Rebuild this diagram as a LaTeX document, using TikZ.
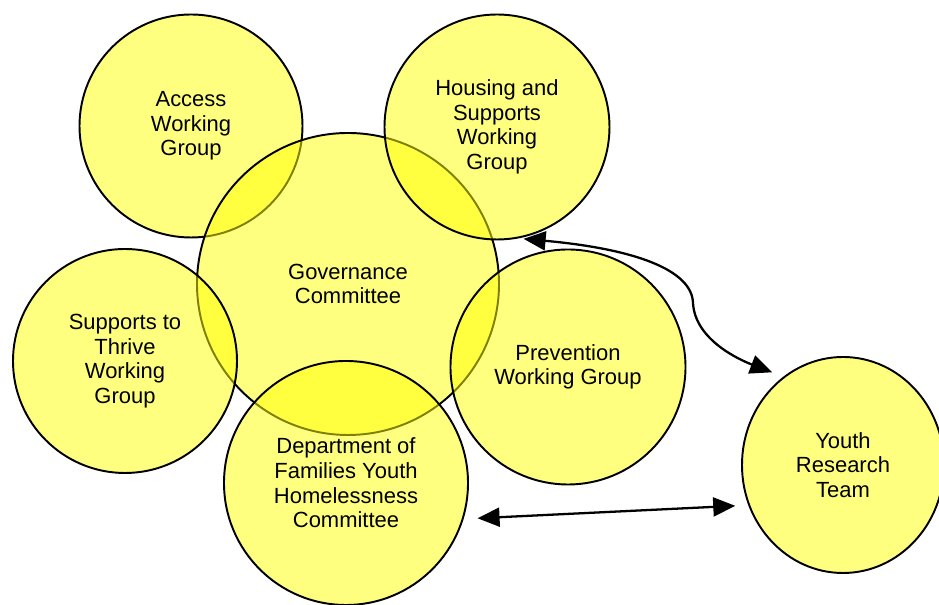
\documentclass[tikz,border=0pt]{standalone}
\usepackage{fontspec}
\setmainfont{Liberation Sans}
\usetikzlibrary{arrows.meta,shapes.geometric}
\definecolor{lemon}{rgb}{1, 1, 0}

\begin{document}
\begin{tikzpicture}[
    grp/.style={circle,draw,line width=1.1pt,fill=lemon,fill opacity=0.5,text opacity=1,
      inner sep=0pt,align=center,font=\fontsize{12.5}{14}\selectfont},
    link/.style={>={Triangle[length=0.44cm,width=0.38cm]},<->,line width=1.3pt}]
\useasboundingbox (0,0) rectangle (18.78,12.10);

% access goes under the committee, the rest sit on top of it
\node[grp,minimum size=4.46cm] (access) at (3.82,9.58) {Access\\Working\\Group};
\node[grp,minimum size=6.04cm] (gov) at (6.96,6.42) {Governance\\Committee};
\node[grp,minimum size=4.5cm] (housing) at (9.94,9.56) {Housing and\\Supports\\Working\\Group};
\node[grp,minimum size=4.48cm] (thrive) at (2.50,4.88) {Supports to\\Thrive\\Working\\Group};
\node[grp,minimum size=4.70cm] (prev) at (11.36,4.76) {Prevention\\Working Group};
\node[grp,minimum size=4.88cm] (dept) at (6.92,2.44) {Department of\\Families Youth\\Homelessness\\Committee};
\node[grp,ellipse,minimum width=4.04cm,minimum height=4.32cm] (youth) at (16.86,2.80) {Youth\\Research\\Team};

\coordinate (bend) at (13.86,6.04);

\draw[link,shorten <=0.1cm,shorten >=0.24cm] (housing.-79) .. controls (12.7,7.12) and (13.84,6.7) .. (bend)
  .. controls (13.9,5.3) and (14.8,4.9) .. (youth.124);
\draw[link,shorten <=0.28cm,shorten >=0.26cm] (dept.-17) -- (youth.203);

\end{tikzpicture}
\end{document}
